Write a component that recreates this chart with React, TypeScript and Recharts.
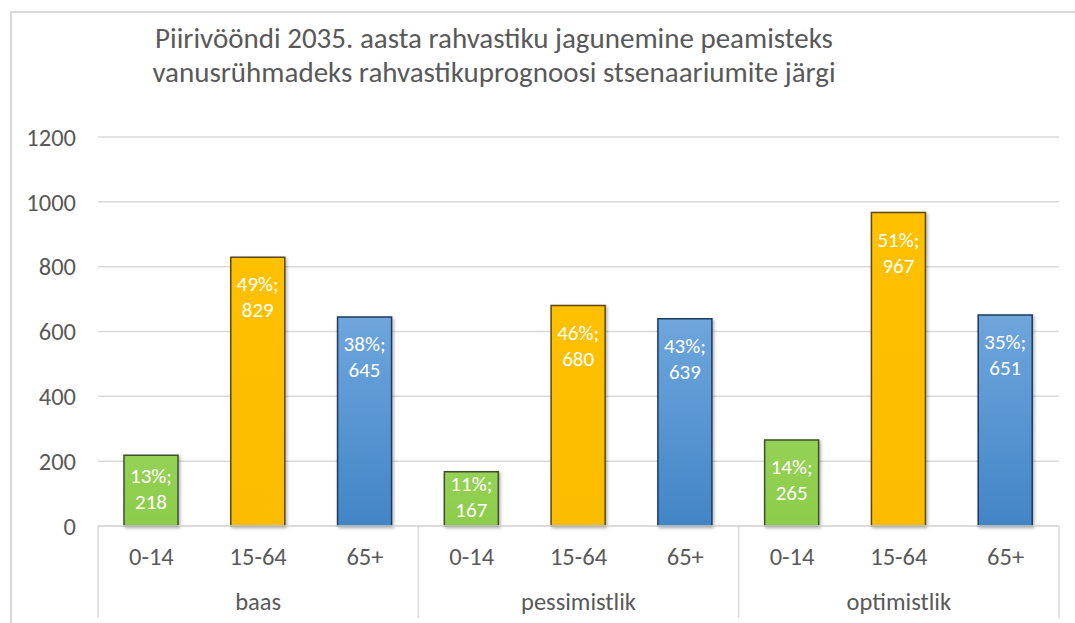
import React from "react"
import {
  BarChart,
  Bar,
  XAxis,
  YAxis,
  CartesianGrid,
  Cell,
  LabelList,
} from "recharts"

const scenarios = ["baas", "pessimistlik", "optimistlik"]
const ageGroups = ["0-14", "15-64", "65+"]

// population per age group, one array per scenario
const baasValues = [218, 829, 645]
const pessimistlikValues = [167, 680, 639]
const optimistlikValues = [265, 967, 651]

// share of the scenario total, %
const baasShares = [13, 49, 38]
const pessimistlikShares = [11, 46, 43]
const optimistlikShares = [14, 51, 35]

const yTicks = [0, 200, 400, 600, 800, 1000, 1200]

const titleLines = [
  "Piirivööndi 2035. aasta rahvastiku jagunemine peamisteks",
  "vanusrühmadeks rahvastikuprognoosi stsenaariumite järgi",
]

const valuesByScenario = [baasValues, pessimistlikValues, optimistlikValues]
const sharesByScenario = [baasShares, pessimistlikShares, optimistlikShares]

const data = scenarios.flatMap((sc, si) =>
  ageGroups.map((age, ai) => ({
    key: `${sc}-${age}`,
    scenario: sc,
    age,
    ageIndex: ai,
    value: valuesByScenario[si][ai],
    share: sharesByScenario[si][ai],
  }))
)

const W = 1075
const H = 623
const PLOT_LEFT = 98
const PLOT_RIGHT = 1059
const BAND = (PLOT_RIGHT - PLOT_LEFT) / data.length
const FONT = "Carlito, 'Open Sans', sans-serif"
const TEXT = "#595959"
const GRID = "#d9d9d9"
const AXIS_FONT = 24.5

const FILLS = ["url(#gGreen)", "url(#gYellow)", "url(#gBlue)"]
const STROKES = ["#3f4f2b", "#5b4912", "#1f3a5e"]

function XTick(props: any) {
  const { x, y, index } = props
  const d = data[index]
  if (!d) return null
  return (
    <g>
      <text
        x={x}
        y={y + 31}
        textAnchor="middle"
        dominantBaseline="central"
        fontSize={AXIS_FONT}
        fontFamily={FONT}
        fill={TEXT}
      >
        {d.age}
      </text>
      {d.ageIndex === 1 && (
        <text
          x={x}
          y={y + 76}
          textAnchor="middle"
          dominantBaseline="central"
          fontSize={AXIS_FONT}
          fontFamily={FONT}
          fill={TEXT}
        >
          {d.scenario}
        </text>
      )}
      {d.ageIndex === 0 && (
        <line
          x1={x - BAND / 2}
          x2={x - BAND / 2}
          y1={y}
          y2={y + 92}
          stroke={GRID}
          strokeWidth={1.5}
        />
      )}
      {index === data.length - 1 && (
        <line
          x1={x + BAND / 2}
          x2={x + BAND / 2}
          y1={y}
          y2={y + 92}
          stroke={GRID}
          strokeWidth={1.5}
        />
      )}
    </g>
  )
}

// two-line label at the inside end of the bar; short bars get it centred
function BarLabel(props: any) {
  const { x, y, width, height, index } = props
  const d = data[index]
  if (!d) return null
  const cx = x + width / 2
  const mid = Math.min(y + 40, y + height / 2 - 2)
  return (
    <g fontFamily={FONT} fontSize={21} fill="#ffffff" textAnchor="middle">
      <text x={cx} y={mid - 13} dominantBaseline="central">
        {d.share}%;
      </text>
      <text x={cx} y={mid + 13} dominantBaseline="central">
        {d.value}
      </text>
    </g>
  )
}

export default function App() {
  return (
    <div
      style={{
        position: "absolute",
        left: 0,
        top: 0,
        width: W,
        height: H,
        background: "#fff",
        overflow: "hidden",
      }}
    >
      {/* chart frame */}
      <div
        style={{
          position: "absolute",
          left: 10,
          top: 11,
          width: W,
          height: H,
          border: `2px solid ${GRID}`,
          boxSizing: "border-box",
        }}
      />
      <div
        style={{
          position: "absolute",
          left: 494 - 450,
          width: 900,
          top: 21,
          textAlign: "center",
          fontFamily: FONT,
          fontSize: 29,
          lineHeight: "34px",
          color: TEXT,
          whiteSpace: "nowrap",
        }}
      >
        {titleLines.map((l) => (
          <div key={l}>{l}</div>
        ))}
      </div>
      <div style={{ position: "absolute", left: 0, top: 0 }}>
        <BarChart
          width={W}
          height={H}
          data={data}
          margin={{ top: 137, right: W - PLOT_RIGHT, bottom: 0, left: 38 }}
        >
          <defs>
            <linearGradient id="gGreen" x1="0" y1="0" x2="0" y2="1">
              <stop offset="0%" stopColor="#95d155" />
              <stop offset="100%" stopColor="#8dcc4b" />
            </linearGradient>
            <linearGradient id="gYellow" x1="0" y1="0" x2="0" y2="1">
              <stop offset="0%" stopColor="#ffc000" />
              <stop offset="100%" stopColor="#fcbd00" />
            </linearGradient>
            <linearGradient id="gBlue" x1="0" y1="0" x2="0" y2="1">
              <stop offset="0%" stopColor="#6fa6dc" />
              <stop offset="100%" stopColor="#4285c7" />
            </linearGradient>
            <filter id="shadow" x="-20%" y="-10%" width="140%" height="130%">
              <feDropShadow dx="1.5" dy="1.5" stdDeviation="1.5" floodColor="#000" floodOpacity="0.3" />
            </filter>
          </defs>
          <CartesianGrid
            horizontal
            vertical={false}
            stroke={GRID}
            strokeWidth={1.5}
          />
          <XAxis
            dataKey="key"
            height={97}
            interval={0}
            tickSize={0}
            tickMargin={0}
            tickLine={false}
            axisLine={{ stroke: GRID, strokeWidth: 1.5 }}
            tick={<XTick />}
          />
          <YAxis
            width={60}
            domain={[0, 1200]}
            ticks={yTicks}
            interval={0}
            axisLine={false}
            tickLine={false}
            tickSize={0}
            tickMargin={22}
            tick={{ fontSize: AXIS_FONT, fontFamily: FONT, fill: TEXT }}
          />
          <Bar
            dataKey="value"
            barSize={54}
            isAnimationActive={false}
            strokeWidth={1.5}
            filter="url(#shadow)"
          >
            {data.map((d) => (
              <Cell
                key={d.key}
                fill={FILLS[d.ageIndex]}
                stroke={STROKES[d.ageIndex]}
              />
            ))}
            <LabelList dataKey="value" content={<BarLabel />} />
          </Bar>
        </BarChart>
      </div>
    </div>
  )
}
